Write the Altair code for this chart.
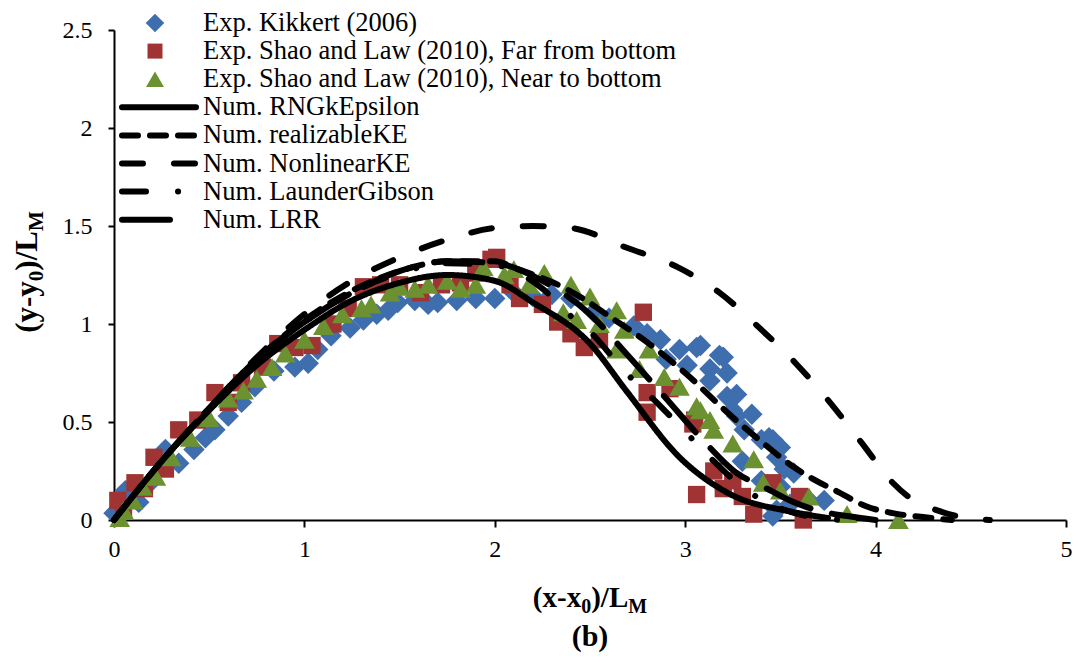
import altair as alt
import pandas as pd

FONT = "Liberation Serif"

# ---------------- data ----------------
kik_x = [0.0, 0.06, 0.13, 0.2, 0.27, 0.34, 0.42, 0.48, 0.53, 0.6, 0.67, 0.74, 0.84, 0.95, 1.02, 1.07,
         1.14, 1.24, 1.31, 1.38, 1.44, 1.49, 1.58, 1.65, 1.7, 1.8, 1.9, 2.0, 2.1, 2.2, 2.3, 2.4, 2.52,
         2.6, 2.73, 2.8, 2.87, 2.9, 2.97, 3.01, 3.06, 3.08, 3.13, 3.13, 3.18, 3.2, 3.22, 3.22, 3.25,
         3.27, 3.27, 3.31, 3.35, 3.4, 3.44, 3.46, 3.48, 3.5, 3.52, 3.57, 3.5, 3.46, 3.48, 3.64, 3.73,
         3.3, 3.4, 3.55]
kik_y = [0.035, 0.15, 0.09, 0.2, 0.36, 0.29, 0.36, 0.42, 0.46, 0.53, 0.6, 0.68, 0.76, 0.78, 0.8, 0.87,
         0.94, 0.98, 1.02, 1.05, 1.07, 1.11, 1.12, 1.1, 1.11, 1.12, 1.13, 1.13, 1.16, 1.14, 1.15, 1.13, 1.06,
         1.03, 0.99, 0.95, 0.92, 0.82, 0.87, 0.79, 0.88, 0.89, 0.71, 0.77, 0.84, 0.83, 0.75, 0.63, 0.56,
         0.53, 0.64, 0.46, 0.54, 0.41, 0.42, 0.41, 0.32, 0.37, 0.26, 0.24, 0.17, 0.02, 0.05, 0.11, 0.1,
         0.3, 0.2, 0.08]

far_x = [0.02, 0.05, 0.11, 0.16, 0.21, 0.27, 0.34, 0.44, 0.53, 0.6, 0.67, 0.78, 0.86, 0.95, 1.04, 1.15,
         1.23, 1.31, 1.4, 1.5, 1.61, 1.72, 1.82, 1.9, 1.98, 2.01, 2.08, 2.13, 2.25, 2.33, 2.4, 2.47, 2.55,
         2.78, 2.8, 2.8, 2.92, 3.04, 3.05, 3.06, 3.15, 3.2, 3.3, 3.36, 3.46, 3.6, 3.62, 3.25]
far_y = [0.1, 0.05, 0.19, 0.16, 0.32, 0.26, 0.46, 0.51, 0.65, 0.6, 0.7, 0.78, 0.9, 0.88, 0.89, 1.0,
         1.08, 1.19, 1.2, 1.2, 1.16, 1.2, 1.21, 1.26, 1.33, 1.34, 1.2, 1.13, 1.1, 1.01, 0.95, 0.88, 0.92,
         1.06, 0.65, 0.55, 0.67, 0.49, 0.51, 0.13, 0.25, 0.16, 0.12, 0.03, 0.19, 0.12, 0.0, 0.2]

near_x = [0.03, 0.05, 0.1, 0.15, 0.22, 0.3, 0.4, 0.5, 0.6, 0.68, 0.75, 0.83, 0.9, 1.0, 1.1, 1.2, 1.3,
          1.35, 1.45, 1.5, 1.58, 1.65, 1.75, 1.82, 1.9, 1.94, 2.05, 2.1, 2.18, 2.26, 2.36, 2.4, 2.43, 2.5,
          2.55, 2.64, 2.64, 2.68, 2.76, 2.81, 2.89, 2.97, 3.06, 3.08, 3.13, 3.15, 3.25, 3.36, 3.41, 3.5,
          3.65, 3.85, 4.12]
near_y = [0.01, 0.05, 0.1, 0.17, 0.22, 0.32, 0.42, 0.52, 0.62, 0.66, 0.72, 0.78, 0.85, 0.92, 0.99, 1.05,
          1.08, 1.1, 1.16, 1.19, 1.18, 1.2, 1.22, 1.18, 1.2, 1.29, 1.25, 1.28, 1.2, 1.26, 1.06, 1.2, 1.02,
          1.14, 1.0, 1.07, 0.87, 0.97, 0.77, 0.87, 0.73, 0.68, 0.58, 0.56, 0.51, 0.46, 0.39, 0.31, 0.19,
          0.15, 0.12, 0.03, 0.0]

rng_x = [0, 0.25, 0.5, 0.75, 1.0, 1.25, 1.5, 1.75, 2.0, 2.2, 2.5, 2.69, 2.97, 3.22, 3.57, 3.75]
rng_y = [0, 0.3, 0.56, 0.79, 0.97, 1.12, 1.21, 1.25, 1.22, 1.11, 0.9, 0.66, 0.32, 0.14, 0.04, 0.01]

real_x = [0, 0.25, 0.5, 0.75, 1.0, 1.25, 1.5, 1.75, 2.0, 2.12, 2.31, 2.48, 2.6, 2.81, 3.0, 3.22, 3.4,
          3.57, 3.67, 3.81, 3.95, 4.09, 4.25, 4.4]
real_y = [0, 0.3, 0.57, 0.82, 1.02, 1.17, 1.27, 1.32, 1.32, 1.28, 1.21, 1.12, 1.04, 0.9, 0.75, 0.55, 0.4,
          0.27, 0.21, 0.14, 0.07, 0.035, 0.015, 0.0]

nonlin_x = [0, 0.25, 0.5, 0.75, 1.0, 1.25, 1.5, 1.75, 2.0, 2.2, 2.4, 2.69, 2.96, 3.18, 3.39, 3.58, 3.76,
            3.93, 4.09, 4.2, 4.32, 4.45, 4.6]
nonlin_y = [0, 0.3, 0.57, 0.83, 1.05, 1.22, 1.34, 1.43, 1.49, 1.5, 1.49, 1.39, 1.29, 1.16, 0.98, 0.8, 0.6,
            0.39, 0.19, 0.1, 0.05, 0.015, 0.0]

lg_x = [0, 0.25, 0.5, 0.75, 1.0, 1.25, 1.5, 1.75, 2.0, 2.25, 2.4, 2.5, 2.69, 2.85, 3.0, 3.15, 3.31, 3.5,
        3.7, 3.85]
lg_y = [0, 0.3, 0.57, 0.82, 1.01, 1.16, 1.26, 1.31, 1.3, 1.18, 1.04, 0.96, 0.75, 0.6, 0.45, 0.3, 0.16,
        0.06, 0.01, 0.0]

lrr_x = [0, 0.25, 0.5, 0.75, 1.0, 1.25, 1.5, 1.75, 2.0, 2.25, 2.5, 2.69, 2.9, 3.1, 3.27, 3.41, 3.55,
         3.69, 3.85, 4.0]
lrr_y = [0, 0.3, 0.57, 0.82, 1.01, 1.16, 1.27, 1.32, 1.31, 1.22, 1.05, 0.85, 0.62, 0.4, 0.24, 0.17, 0.1,
         0.05, 0.02, 0.0]

exp_names = ["Exp. Kikkert (2006)",
             "Exp. Shao and Law (2010), Far from bottom",
             "Exp. Shao and Law (2010), Near to bottom"]
exp_colors = ["#3F6EAE", "#A03434", "#6C9131"]
exp_shapes = ["diamond", "square", "triangle-up"]
exp_sizes = [460, 300, 430]

num_names = ["Num. RNGkEpsilon", "Num. realizableKE", "Num. NonlinearKE",
             "Num. LaunderGibson", "Num. LRR"]
num_dash = [[1, 0], [16, 12], [21, 31], [24, 32, 0.1, 30], [48, 22]]
num_leg_end = [80, 80, 80, 80, 54]

x_ticks = [0, 1, 2, 3, 4, 5]
y_ticks = [0, 0.5, 1, 1.5, 2, 2.5]

# ---------------- layout ----------------
W, H = 952, 490
PAD = {"left": 106, "top": 22, "right": 6, "bottom": 134}

xs = alt.Scale(domain=[0, 5], nice=False, zero=False)
ys = alt.Scale(domain=[0, 2.5], nice=False, zero=False)
X = alt.X("x:Q", scale=xs, axis=alt.Axis(values=x_ticks, format="~g", title=None, grid=False,
                                           tickSize=7, labelPadding=10, labelFlush=False))
Y = alt.Y("y:Q", scale=ys, axis=alt.Axis(values=y_ticks, format="~g", title=None, grid=False,
                                           tickSize=6, labelPadding=16, labelFlush=False))

layers = []
for xs_, ys_, c, s, sz in zip([kik_x, far_x, near_x], [kik_y, far_y, near_y],
                              exp_colors, exp_shapes, exp_sizes):
    df = pd.DataFrame({"x": xs_, "y": ys_})
    layers.append(alt.Chart(df).mark_point(shape=s, filled=True, color=c, size=sz, opacity=1)
                  .encode(x=X, y=Y))

for lx, ly, d in zip([rng_x, real_x, nonlin_x, lg_x, lrr_x], [rng_y, real_y, nonlin_y, lg_y, lrr_y],
                     num_dash):
    df = pd.DataFrame({"x": lx, "y": ly})
    layers.append(alt.Chart(df).mark_line(color="black", strokeWidth=6, strokeDash=d,
                                          strokeCap="round", interpolate="monotone")
                  .encode(x=X, y=Y))

# ---------------- manual legend ----------------
ROW0, ROWSTEP = -7, 28.1
leg_rows = [ROW0 + i * ROWSTEP for i in range(8)]
for i in range(3):
    layers.append(alt.Chart(pd.DataFrame({"ly": [leg_rows[i]]})).mark_point(
        shape=exp_shapes[i], filled=True, color=exp_colors[i], size=exp_sizes[i] * 0.75, opacity=1)
        .encode(x=alt.value(41), y=alt.Y("ly:Q", scale=None)))
for i, d in enumerate(num_dash):
    r = leg_rows[3 + i]
    layers.append(alt.Chart(pd.DataFrame({"a": [0]})).mark_rule(
        color="black", strokeWidth=6, strokeDash=d, strokeCap="round")
        .encode(x=alt.value(8), x2=alt.value(num_leg_end[i] + 2), y=alt.value(r)))
leg_txt = pd.DataFrame({"ly": leg_rows, "label": exp_names + num_names})
layers.append(alt.Chart(leg_txt).mark_text(align="left", baseline="middle", font=FONT,
                                           fontSize=26.5, color="black")
              .encode(x=alt.value(89), y=alt.Y("ly:Q", scale=None), text="label:N"))

# ---------------- axis titles with subscripts ----------------
TB = {"(": 0.333, "x": 0.5, "-": 0.333, "y": 0.5, "0": 0.5, ")": 0.333, "/": 0.278,
      "L": 0.667, "M": 0.944}


def tw(s, fs):
    return sum(TB[c] for c in s) * fs


def pieces(var, fs=29, sfs=20):
    parts = [("(%s-%s" % (var, var), fs, 0), ("0", sfs, 6), (")/L", fs, 0), ("M", sfs, 6)]
    out, off = [], 0.0
    for t, f, sh in parts:
        out.append((t, f, sh, off))
        off += tw(t, f)
    return out, off


xp, xtot = pieces("x")
x0 = W / 2 - xtot / 2
for t, f, sh, off in xp:
    layers.append(alt.Chart(pd.DataFrame({"t": [t]})).mark_text(
        align="left", baseline="alphabetic", font=FONT, fontWeight="bold", fontSize=f, color="black")
        .encode(x=alt.value(x0 + off), y=alt.value(577 + sh), text="t:N"))

yp, ytot = pieces("y", fs=31, sfs=21)
yc = 242
y0 = yc + ytot / 2
for t, f, sh, off in yp:
    layers.append(alt.Chart(pd.DataFrame({"t": [t]})).mark_text(
        align="left", baseline="alphabetic", font=FONT, fontWeight="bold", fontSize=f, color="black",
        angle=270)
        .encode(x=alt.value(-77 + sh), y=alt.value(y0 - off), text="t:N"))

layers.append(alt.Chart(pd.DataFrame({"t": ["(b)"]})).mark_text(
    align="center", baseline="alphabetic", font=FONT, fontWeight="bold", fontSize=30, color="black")
    .encode(x=alt.value(W / 2), y=alt.value(616), text="t:N"))

chart = alt.layer(*layers).properties(
    width=W, height=H, padding=PAD, autosize=alt.AutoSizeParams(type="none")
).configure_view(stroke=None).configure_axis(
    domainColor="black", domainWidth=2, tickColor="black", tickWidth=2,
    labelFont=FONT, labelFontSize=24, labelColor="black"
)

chart.save("out.html", embed_options={"renderer": "svg", "actions": False})
